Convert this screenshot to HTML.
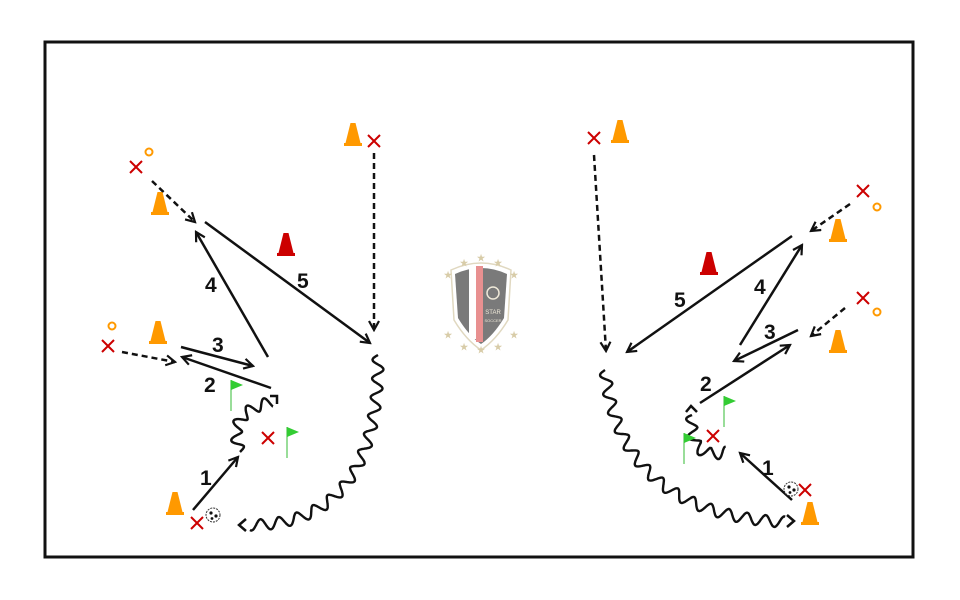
<!DOCTYPE html>
<html><head><meta charset="utf-8"><style>
html,body{margin:0;padding:0;background:#fff;}
svg{display:block;}
text{font-family:"Liberation Sans",sans-serif;font-weight:bold;font-size:21px;fill:#111;}
</style></head><body>
<svg id="s" width="960" height="600" viewBox="0 0 960 600" xmlns="http://www.w3.org/2000/svg">
<defs>
<marker id="ar" viewBox="0 0 12 12" refX="10" refY="6" markerWidth="12" markerHeight="12" markerUnits="userSpaceOnUse" orient="auto">
<path d="M1,1 L10,6 L1,11" fill="none" stroke="#111" stroke-width="2.2"/>
</marker>
<g id="cone"><path d="M-8,9 L-2.5,-13 L2.5,-13 L8,9Z" fill="#f90"/><rect x="-9" y="7" width="18" height="3" fill="#f90"/></g>
<g id="rcone"><path d="M-8,9 L-2.5,-13 L2.5,-13 L8,9Z" fill="#c00"/><rect x="-9" y="7" width="18" height="3" fill="#c00"/></g>
<g id="x"><path d="M-6,-6 L6,6 M6,-6 L-6,6" stroke="#c00" stroke-width="2"/></g>
<g id="ring"><circle r="3.5" fill="none" stroke="#f90" stroke-width="2"/></g>
<g id="flag"><line x1="0" y1="0" x2="0" y2="31" stroke="#9d9" stroke-width="2"/><path d="M0,0 L12,5 L0,10Z" fill="#3c3"/></g>
<g id="ball"><circle r="7" fill="#fff" stroke="#333" stroke-width="1" stroke-dasharray="2 1"/><circle cx="-2" cy="-2" r="1.6" fill="#111"/><circle cx="3" cy="1" r="1.6" fill="#111"/><circle cx="-1" cy="3.5" r="1.4" fill="#111"/></g>
</defs>
<rect x="45" y="42" width="868" height="515" fill="#fff" stroke="#111" stroke-width="3"/>
<g id="waves" fill="none" stroke="#111" stroke-width="2.4"></g>
<g fill="none" stroke="#111" stroke-width="2.5">
<line x1="374" y1="153" x2="374" y2="330" stroke-dasharray="6 4" marker-end="url(#ar)"/>
<line x1="152" y1="181" x2="195" y2="222" stroke-dasharray="6 4" marker-end="url(#ar)"/>
<line x1="122" y1="352" x2="175" y2="362" stroke-dasharray="6 4" marker-end="url(#ar)"/>
<line x1="205" y1="222" x2="370" y2="343" marker-end="url(#ar)"/>
<line x1="268" y1="357" x2="196" y2="232" marker-end="url(#ar)"/>
<line x1="181" y1="347" x2="253" y2="366" marker-end="url(#ar)"/>
<line x1="271" y1="388" x2="182" y2="357" marker-end="url(#ar)"/>
<line x1="193" y1="510" x2="238" y2="457" marker-end="url(#ar)"/>
<line x1="594" y1="155" x2="606" y2="351" stroke-dasharray="6 4" marker-end="url(#ar)"/>
<line x1="850" y1="204" x2="811" y2="231" stroke-dasharray="6 4" marker-end="url(#ar)"/>
<line x1="845" y1="308" x2="811" y2="336" stroke-dasharray="6 4" marker-end="url(#ar)"/>
<line x1="792" y1="236" x2="627" y2="352" marker-end="url(#ar)"/>
<line x1="740" y1="345" x2="802" y2="245" marker-end="url(#ar)"/>
<line x1="798" y1="330" x2="734" y2="361" marker-end="url(#ar)"/>
<line x1="700" y1="403" x2="790" y2="345" marker-end="url(#ar)"/>
<line x1="792" y1="500" x2="740" y2="453" marker-end="url(#ar)"/>
</g>
<text x="297" y="288">5</text><text x="205" y="292">4</text><text x="212" y="352">3</text><text x="204" y="392">2</text><text x="200" y="485">1</text>
<text x="674" y="307">5</text><text x="754" y="294">4</text><text x="764" y="339">3</text><text x="700" y="391">2</text><text x="762" y="475">1</text>
<use href="#cone" x="353" y="136"/><use href="#x" x="374" y="141"/>
<use href="#x" x="136" y="167"/><use href="#ring" x="149" y="152"/><use href="#cone" x="160" y="205"/>
<use href="#rcone" x="286" y="246"/>
<use href="#x" x="108" y="346"/><use href="#ring" x="112" y="326"/><use href="#cone" x="158" y="334"/>
<use href="#flag" x="231" y="380"/><use href="#flag" x="287" y="427"/>
<use href="#x" x="268" y="438"/>
<use href="#cone" x="175" y="505"/><use href="#x" x="197" y="523"/><use href="#ball" x="213" y="515"/>
<use href="#x" x="594" y="138"/><use href="#cone" x="620" y="133"/>
<use href="#x" x="863" y="191"/><use href="#ring" x="877" y="207"/><use href="#cone" x="838" y="232"/>
<use href="#rcone" x="709" y="265"/>
<use href="#x" x="863" y="298"/><use href="#ring" x="877" y="312"/><use href="#cone" x="838" y="343"/>
<use href="#flag" x="724" y="396"/><use href="#flag" x="684" y="433"/>
<use href="#x" x="713" y="436"/>
<use href="#ball" x="791" y="489"/><use href="#x" x="805" y="490"/><use href="#cone" x="810" y="515"/>
<g transform="translate(481,300)">
<path d="M-30,-30 Q0,-44 30,-30 L27,20 Q15,40 0,50 Q-15,40 -27,20Z" fill="#fff" stroke="#e0d8c0" stroke-width="1.5"/>
<path d="M-26,-26 Q0,-38 26,-26 L23,18 Q12,36 0,44 Q-12,36 -23,18Z" fill="#7a7a7a"/>
<rect x="-12" y="-33" width="7" height="72" fill="#fff"/>
<rect x="-5" y="-34" width="7" height="76" fill="#e89090"/>
<circle cx="12" cy="-7" r="6" fill="none" stroke="#eee8d8" stroke-width="1.5"/>
<text x="12" y="14" style="font-size:6px;fill:#eee8d8;font-weight:normal" text-anchor="middle">STAR</text>
<text x="12" y="22" style="font-size:4px;fill:#eee8d8;font-weight:normal" text-anchor="middle">SOCCER</text>
<text x="-4" y="-39" style="font-size:9px;fill:#d8cca8">★</text><text x="-21" y="-34" style="font-size:9px;fill:#d8cca8">★</text><text x="13" y="-34" style="font-size:9px;fill:#d8cca8">★</text>
<text x="-37" y="-22" style="font-size:9px;fill:#d8cca8">★</text><text x="29" y="-22" style="font-size:9px;fill:#d8cca8">★</text>
<text x="-37" y="38" style="font-size:9px;fill:#d8cca8">★</text><text x="29" y="38" style="font-size:9px;fill:#d8cca8">★</text>
<text x="-21" y="50" style="font-size:9px;fill:#d8cca8">★</text><text x="13" y="50" style="font-size:9px;fill:#d8cca8">★</text><text x="-4" y="53" style="font-size:9px;fill:#d8cca8">★</text>
</g>
</svg>
<script>
(function(){
var g=document.getElementById('waves');
function wave(p0,p1,p2,amp,wl,chev){
 var N=500,len=0,prev=null,out=[];
 for(var i=0;i<=N;i++){var t=i/N,u=1-t;
  var x=u*u*p0[0]+2*u*t*p1[0]+t*t*p2[0],y=u*u*p0[1]+2*u*t*p1[1]+t*t*p2[1];
  var dx=2*u*(p1[0]-p0[0])+2*t*(p2[0]-p1[0]),dy=2*u*(p1[1]-p0[1])+2*t*(p2[1]-p1[1]);
  var d=Math.hypot(dx,dy)||1; if(prev)len+=Math.hypot(x-prev[0],y-prev[1]); prev=[x,y];
  var o=amp*Math.sin(len/wl*2*Math.PI);
  out.push((i?'L':'M')+(x-dy/d*o).toFixed(1)+','+(y+dx/d*o).toFixed(1));}
 var p=document.createElementNS('http://www.w3.org/2000/svg','path');p.setAttribute('d',out.join(''));g.appendChild(p);
 if(chev){var c=document.createElementNS('http://www.w3.org/2000/svg','path');c.setAttribute('d',chev);c.setAttribute('stroke-width','2.5');g.appendChild(c);}
}
wave([378,355],[380,525],[250,525],5.5,19,'M246,519 L239,525 L246,531');
wave([240,452],[225,412],[272,402],5.5,17,'M270,396 L277,396 L277,404');
wave([605,370],[620,515],[785,522],5.5,19,'M787,515 L794,521 L787,527');
wave([692,415],[688,462],[727,452],5.5,17,'M686,412 L691,406 L697,412');
})();
</script>
</body></html>
